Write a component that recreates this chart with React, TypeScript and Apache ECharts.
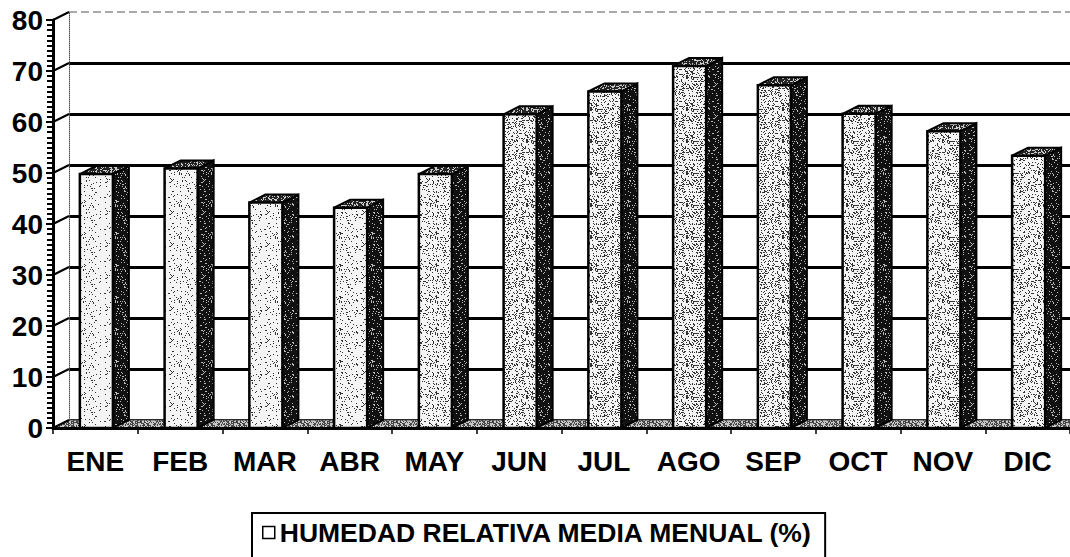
import React, { useEffect, useRef } from "react";
import * as echarts from "echarts";

const MONTHS = ["ENE", "FEB", "MAR", "ABR", "MAY", "JUN", "JUL", "AGO", "SEP", "OCT", "NOV", "DIC"];
const HUMIDITY = [49.8, 50.9, 44.2, 43.2, 49.8, 61.5, 66.0, 71.0, 67.2, 61.6, 58.2, 53.4];
const Y_TICKS = [0, 10, 20, 30, 40, 50, 60, 70, 80];
const SERIES_NAME = "HUMEDAD RELATIVA MEDIA MENUAL (%)";

// styles / layout
const FACE_DENSITY = [7, 9, 9, 11, 16, 22, 22, 24, 24, 22, 21, 20];
const FONT = "'Liberation Sans', Arial, sans-serif";
const W = 1070;
const H = 557;
const LEFT = 53;
const TOP = 20;
const AXIS_Y = 428;
const DX = 16;
const DY = 8;
const PAT = 32;

function makeStipple(density: number, dotColor: string, bgColor: string): any {
  const c = document.createElement("canvas");
  c.width = PAT;
  c.height = PAT;
  const ctx = c.getContext("2d");
  if (ctx) {
    ctx.fillStyle = bgColor;
    ctx.fillRect(0, 0, PAT, PAT);
    ctx.fillStyle = dotColor;
    for (let y = 0; y < PAT; y++) {
      for (let x = 0; x < PAT; x++) {
        let h = (x * 374761393 + y * 668265263) | 0;
        h = Math.imul(h ^ (h >>> 13), 1274126177);
        h = (h ^ (h >>> 16)) >>> 0;
        if (h % 100 < density) ctx.fillRect(x, y, 1, 1);
      }
    }
  }
  return { image: c, repeat: "repeat", imageWidth: PAT, imageHeight: PAT };
}

export default function App() {
  const ref = useRef<HTMLDivElement>(null);

  useEffect(() => {
    if (!ref.current) return;
    const chart = echarts.init(ref.current, undefined, { renderer: "svg" });

    const facePatterns = FACE_DENSITY.map((d) => makeStipple(d, "#333", "#f4f4f4"));
    const sidePattern = makeStipple(12, "#bbb", "#111");
    const capPattern = makeStipple(30, "#ccc", "#222");
    const floorPattern = makeStipple(45, "#444", "#c8c8c8");

    const option: any = {
      animation: false,
      backgroundColor: "#ffffff",
      grid: [
        { left: LEFT, right: 0, top: TOP, bottom: H - AXIS_Y },
        { left: LEFT + DX, right: 0, top: TOP - DY, bottom: H - AXIS_Y + DY },
      ],
      xAxis: [
        {
          type: "category",
          gridIndex: 0,
          data: MONTHS,
          axisLine: { lineStyle: { color: "#000", width: 3 } },
          axisTick: { show: true, length: 6, lineStyle: { color: "#000", width: 1.5 } },
          axisLabel: { color: "#000", fontFamily: FONT, fontWeight: "bold", fontSize: 28, margin: 19 },
          splitLine: { show: false },
          z: 5,
        },
        {
          type: "category",
          gridIndex: 1,
          data: MONTHS,
          show: false,
        },
      ],
      yAxis: [
        {
          type: "value",
          gridIndex: 0,
          min: 0,
          max: 80,
          interval: 10,
          axisLine: { show: true, lineStyle: { color: "#000", width: 3 } },
          axisTick: { show: true, length: 7, lineStyle: { color: "#000", width: 2 } },
          minorTick: { show: true, splitNumber: 10, length: 6, lineStyle: { color: "#000", width: 2 } },
          axisLabel: { color: "#000", fontFamily: FONT, fontWeight: "bold", fontSize: 28, margin: 10 },
          splitLine: { show: false },
          minorSplitLine: { show: false },
          z: 5,
        },
        {
          type: "value",
          gridIndex: 1,
          min: 0,
          max: 80,
          interval: 10,
          axisLabel: { show: false },
          axisTick: { show: false },
          axisLine: { show: true, lineStyle: { color: "#555", width: 1, type: "dotted" } },
          splitLine: {
            show: true,
            lineStyle: {
              color: ["#000", "#000", "#000", "#000", "#000", "#000", "#000", "#000", "rgba(0,0,0,0)"],
              width: 3,
            },
          },
        },
      ],
      legend: {
        left: 252,
        top: 513,
        orient: "horizontal",
        borderColor: "#000",
        borderWidth: 2,
        borderRadius: 0,
        padding: [6, 12, 40, 10],
        itemWidth: 12,
        itemHeight: 12,
        itemGap: 5,
        data: [
          {
            name: SERIES_NAME,
            icon: "rect",
            itemStyle: { color: "#fff", borderColor: "#000", borderWidth: 1.5 },
          },
        ],
        textStyle: { color: "#000", fontFamily: FONT, fontWeight: "bold", fontSize: 26.5 },
      },
      graphic: [
        {
          type: "polygon",
          z: 1,
          shape: { points: [[LEFT, AXIS_Y], [LEFT + DX, AXIS_Y - DY], [W, AXIS_Y - DY], [W, AXIS_Y]] },
          style: { fill: floorPattern, stroke: "#555", lineWidth: 1 },
        },
        {
          type: "line",
          z: 1,
          shape: { x1: LEFT + DX, y1: TOP - DY, x2: W, y2: TOP - DY },
          style: { stroke: "#555", lineWidth: 1.2, lineDash: [8, 4] },
        },
      ],
      series: [
        {
          type: "custom",
          name: "wall",
          xAxisIndex: 0,
          yAxisIndex: 0,
          silent: true,
          z: 1,
          data: Y_TICKS.map((t) => [0, t]),
          renderItem: (params: any, api: any) => {
            const p = api.coord([0, api.value(1)]);
            const band = api.size([1, 0])[0];
            const x = p[0] - band / 2;
            return {
              type: "line",
              shape: { x1: x, y1: p[1], x2: x + DX, y2: p[1] - DY },
              style: { stroke: "#000", lineWidth: 2 },
            };
          },
        },
        {
          type: "custom",
          name: SERIES_NAME,
          xAxisIndex: 0,
          yAxisIndex: 0,
          z: 3,
          itemStyle: { color: "#fff", borderColor: "#000" },
          data: HUMIDITY.map((v, i) => [i, v]),
          encode: { x: 0, y: 1 },
          renderItem: (params: any, api: any) => {
            const idx = api.value(0);
            const top = api.coord([idx, api.value(1)]);
            const base = api.coord([idx, 0]);
            const band = api.size([1, 0])[0];
            const w = band * 0.39;
            const x0 = top[0] - w / 2 + 1;
            const x1 = x0 + w;
            const yt = top[1];
            const yb = base[1];
            const face = facePatterns[params.dataIndex % facePatterns.length];
            return {
              type: "group",
              children: [
                {
                  type: "polygon",
                  shape: { points: [[x1, yt], [x1 + DX, yt - DY], [x1 + DX, yb - DY], [x1, yb]] },
                  style: { fill: sidePattern, stroke: "#000", lineWidth: 2 },
                },
                {
                  type: "polygon",
                  shape: { points: [[x0, yt], [x0 + DX, yt - DY], [x1 + DX, yt - DY], [x1, yt]] },
                  style: { fill: capPattern, stroke: "#000", lineWidth: 2 },
                },
                {
                  type: "rect",
                  shape: { x: x0, y: yt, width: w, height: yb - yt },
                  style: { fill: face, stroke: "#000", lineWidth: 2.5 },
                },
              ],
            };
          },
        },
      ],
    };

    chart.setOption(option);
    return () => chart.dispose();
  }, []);

  return (
    <div style={{ position: "absolute", left: 0, top: 0, width: W, height: H, background: "#fff" }}>
      <div ref={ref} style={{ width: W, height: H }} />
    </div>
  );
}
